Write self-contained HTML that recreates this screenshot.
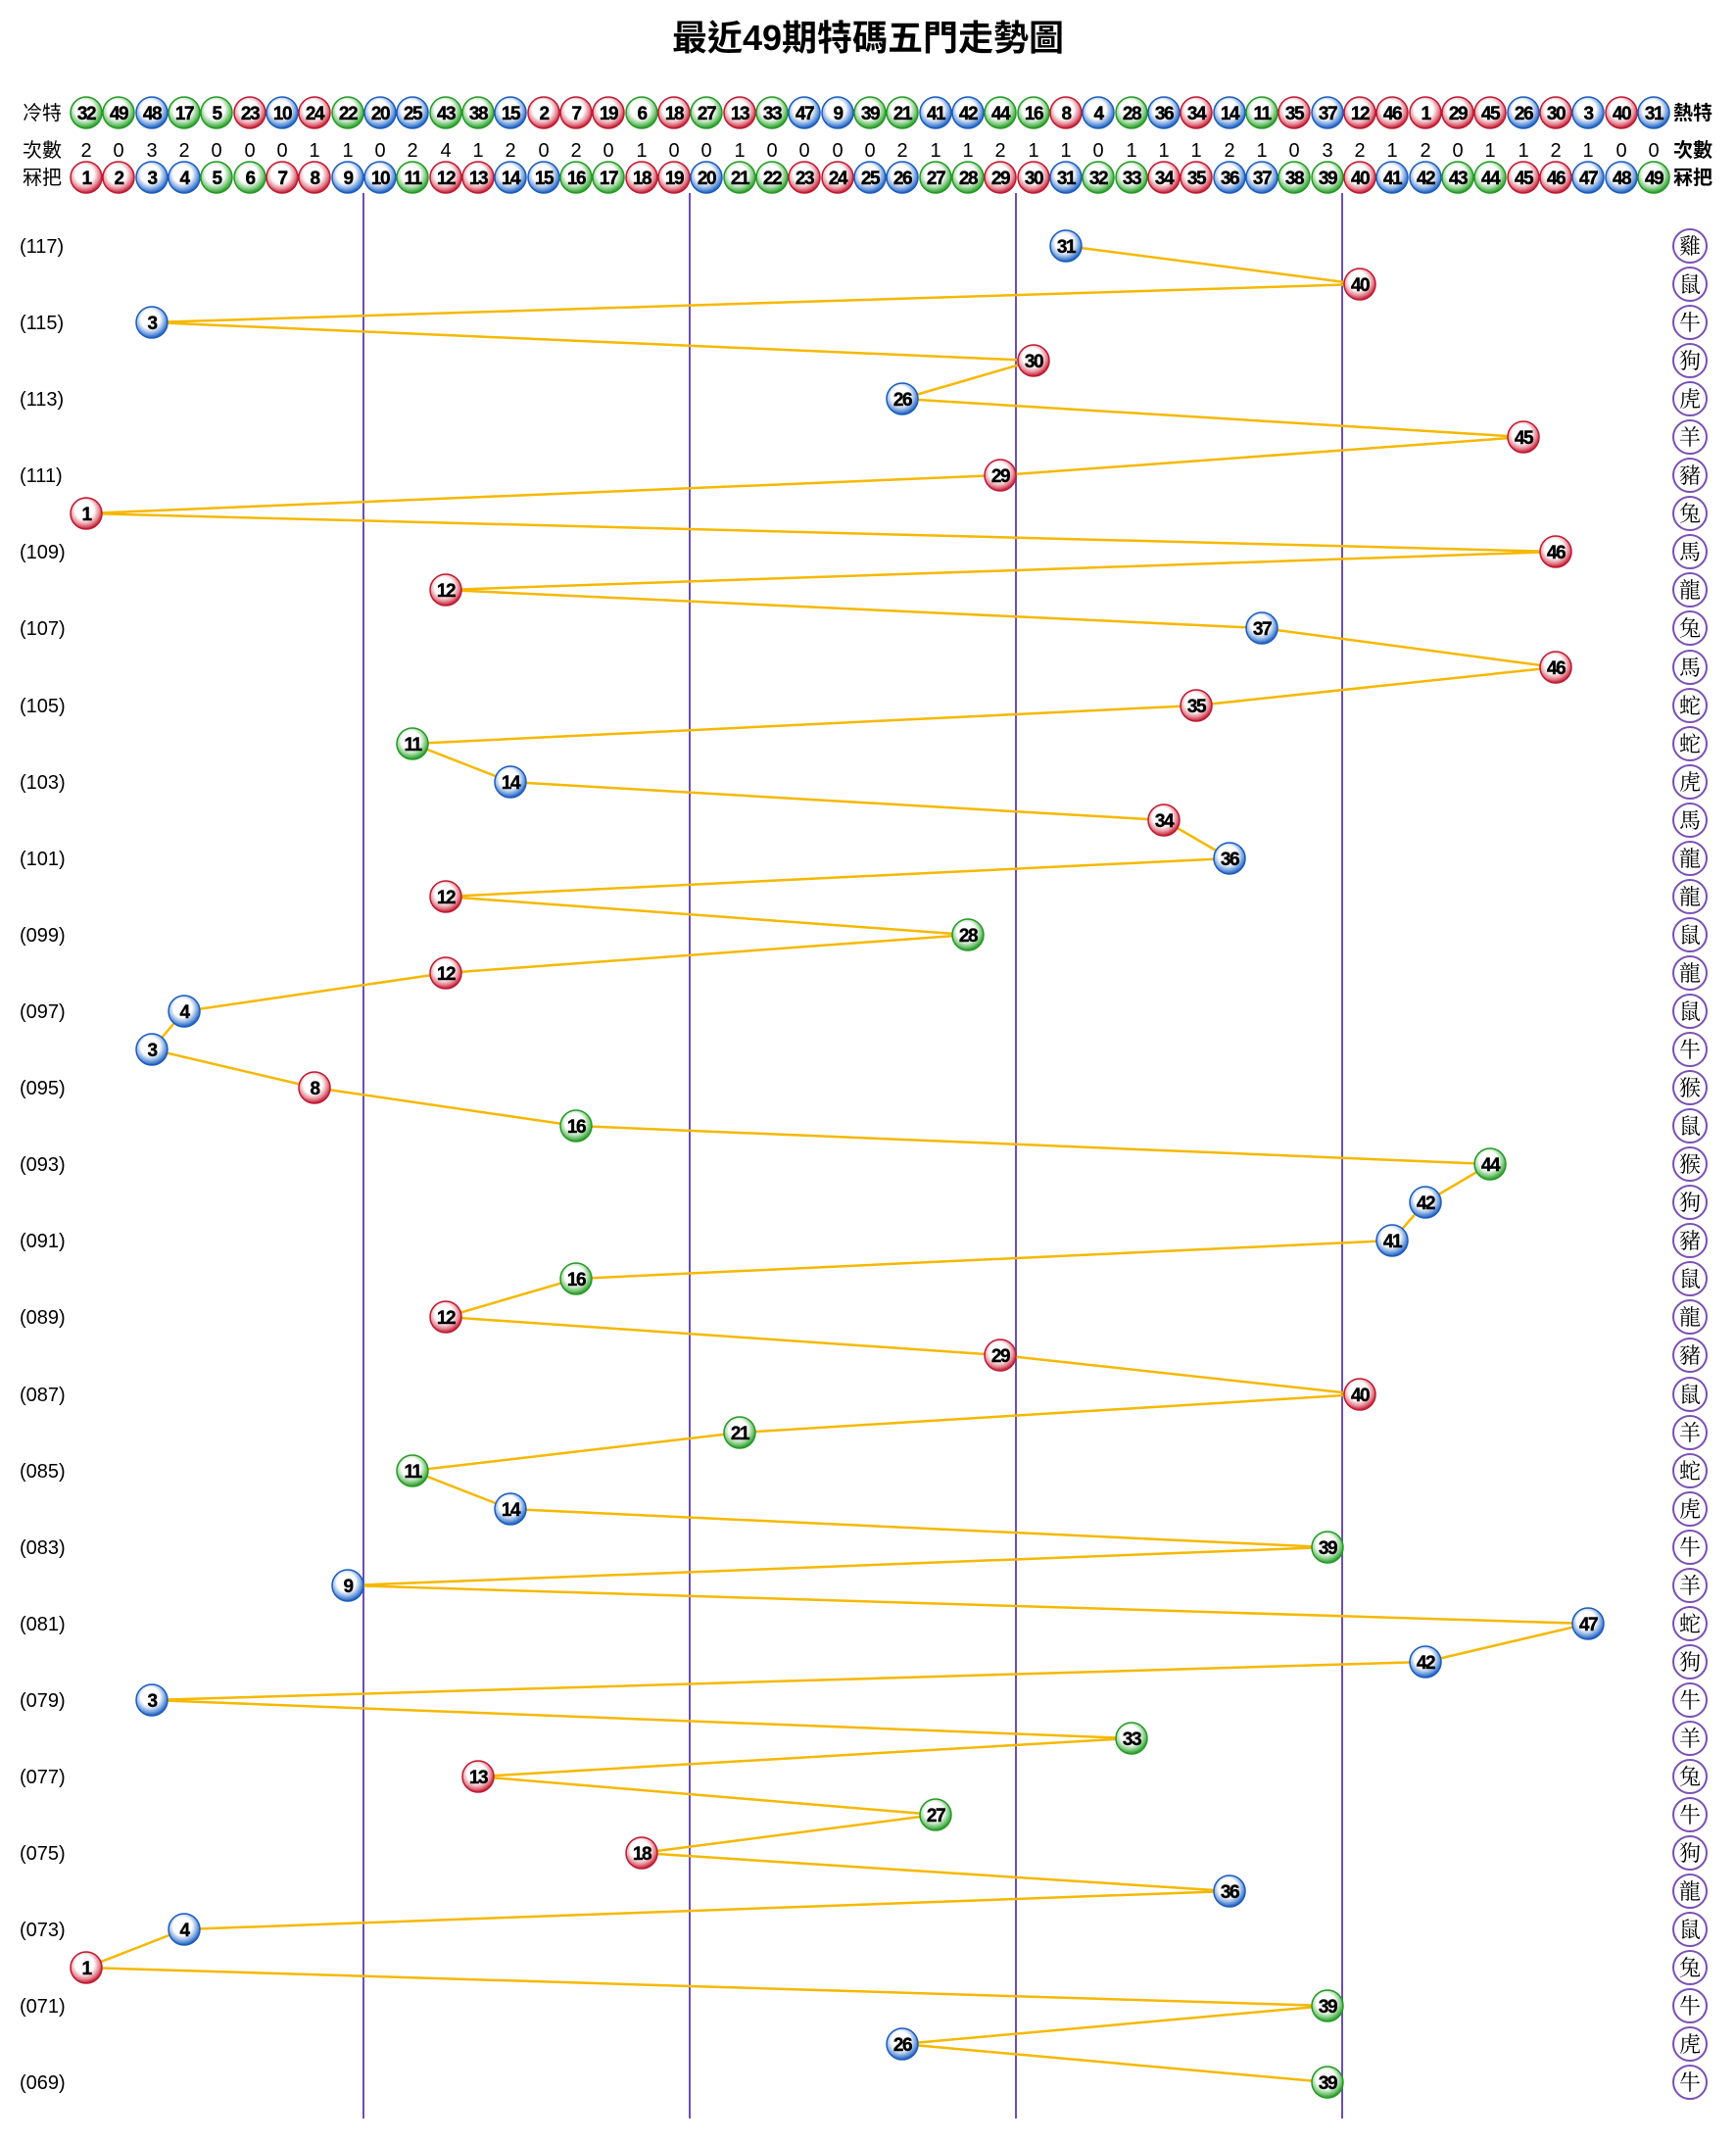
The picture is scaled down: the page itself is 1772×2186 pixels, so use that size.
<!DOCTYPE html>
<html><head><meta charset="utf-8"><style>
html,body{margin:0;padding:0;background:#fff}
svg{display:block}
.t{font:bold 19px "Liberation Sans",sans-serif;text-anchor:middle;letter-spacing:-1.5px;fill:#000;stroke:#000;stroke-width:0.4px;transform:translateY(1px)}
.c{font:20px "Liberation Sans",sans-serif;text-anchor:middle;fill:#000}
.l{font:20px "Liberation Sans","Noto Sans CJK TC",sans-serif;fill:#000}
.lb{font:bold 20px "Liberation Sans","Noto Sans CJK TC",sans-serif;fill:#000}
.p{font:20px "Liberation Sans",sans-serif;fill:#000}
.z{font:22px "Noto Serif CJK SC",serif;text-anchor:middle;fill:#000}
</style></head><body>
<svg width="1772" height="2186" viewBox="0 0 1772 2186" xmlns="http://www.w3.org/2000/svg">
<defs>
<radialGradient id="gR" cx="45%" cy="40%" r="60%"><stop offset="0" stop-color="#fff"/><stop offset="0.5" stop-color="#fff"/><stop offset="0.78" stop-color="#e58a96"/><stop offset="1" stop-color="#c01830"/></radialGradient>
<radialGradient id="gB" cx="45%" cy="40%" r="60%"><stop offset="0" stop-color="#fff"/><stop offset="0.5" stop-color="#fff"/><stop offset="0.78" stop-color="#7fa8e0"/><stop offset="1" stop-color="#1a5cbf"/></radialGradient>
<radialGradient id="gG" cx="45%" cy="40%" r="60%"><stop offset="0" stop-color="#fff"/><stop offset="0.5" stop-color="#fff"/><stop offset="0.78" stop-color="#86cc86"/><stop offset="1" stop-color="#249a24"/></radialGradient>
<circle id="R" r="16" fill="url(#gR)" stroke="#c01830" stroke-width="1.5"/>
<circle id="B" r="16" fill="url(#gB)" stroke="#1a5cbf" stroke-width="1.5"/>
<circle id="G" r="16" fill="url(#gG)" stroke="#249a24" stroke-width="1.5"/>
</defs>
<text x="886" y="51" style="font:bold 36px 'Liberation Sans','Noto Sans CJK TC',sans-serif;text-anchor:middle">最近49期特碼五門走勢圖</text>

<text class="l" x="23" y="122">冷特</text>
<text class="lb" x="1708" y="122">熱特</text>
<text class="l" x="23" y="160">次數</text>
<text class="lb" x="1708" y="160">次數</text>
<text class="l" x="23" y="188">冧把</text>
<text class="lb" x="1708" y="188">冧把</text>

<!-- vertical lines -->
<g stroke="#6a4fb8" stroke-width="2">
<line x1="371" y1="197" x2="371" y2="2162"/>
<line x1="704" y1="197" x2="704" y2="2162"/>
<line x1="1037" y1="197" x2="1037" y2="2162"/>
<line x1="1370" y1="197" x2="1370" y2="2162"/>
</g>

<g transform="translate(5,0)">
<!-- 冷特 row -->
<g>
<use href="#G" x="83" y="115"/><text class="t" x="83" y="121">32</text>
<use href="#G" x="116" y="115"/><text class="t" x="116" y="121">49</text>
<use href="#B" x="150" y="115"/><text class="t" x="150" y="121">48</text>
<use href="#G" x="183" y="115"/><text class="t" x="183" y="121">17</text>
<use href="#G" x="216" y="115"/><text class="t" x="216" y="121">5</text>
<use href="#R" x="250" y="115"/><text class="t" x="250" y="121">23</text>
<use href="#B" x="283" y="115"/><text class="t" x="283" y="121">10</text>
<use href="#R" x="316" y="115"/><text class="t" x="316" y="121">24</text>
<use href="#G" x="350" y="115"/><text class="t" x="350" y="121">22</text>
<use href="#B" x="383" y="115"/><text class="t" x="383" y="121">20</text>
<use href="#B" x="416" y="115"/><text class="t" x="416" y="121">25</text>
<use href="#G" x="450" y="115"/><text class="t" x="450" y="121">43</text>
<use href="#G" x="483" y="115"/><text class="t" x="483" y="121">38</text>
<use href="#B" x="516" y="115"/><text class="t" x="516" y="121">15</text>
<use href="#R" x="550" y="115"/><text class="t" x="550" y="121">2</text>
<use href="#R" x="583" y="115"/><text class="t" x="583" y="121">7</text>
<use href="#R" x="616" y="115"/><text class="t" x="616" y="121">19</text>
<use href="#G" x="650" y="115"/><text class="t" x="650" y="121">6</text>
<use href="#R" x="683" y="115"/><text class="t" x="683" y="121">18</text>
<use href="#G" x="716" y="115"/><text class="t" x="716" y="121">27</text>
<use href="#R" x="750" y="115"/><text class="t" x="750" y="121">13</text>
<use href="#G" x="783" y="115"/><text class="t" x="783" y="121">33</text>
<use href="#B" x="816" y="115"/><text class="t" x="816" y="121">47</text>
<use href="#B" x="850" y="115"/><text class="t" x="850" y="121">9</text>
<use href="#G" x="883" y="115"/><text class="t" x="883" y="121">39</text>
<use href="#G" x="916" y="115"/><text class="t" x="916" y="121">21</text>
<use href="#B" x="950" y="115"/><text class="t" x="950" y="121">41</text>
<use href="#B" x="983" y="115"/><text class="t" x="983" y="121">42</text>
<use href="#G" x="1016" y="115"/><text class="t" x="1016" y="121">44</text>
<use href="#G" x="1050" y="115"/><text class="t" x="1050" y="121">16</text>
<use href="#R" x="1083" y="115"/><text class="t" x="1083" y="121">8</text>
<use href="#B" x="1116" y="115"/><text class="t" x="1116" y="121">4</text>
<use href="#G" x="1150" y="115"/><text class="t" x="1150" y="121">28</text>
<use href="#B" x="1183" y="115"/><text class="t" x="1183" y="121">36</text>
<use href="#R" x="1216" y="115"/><text class="t" x="1216" y="121">34</text>
<use href="#B" x="1250" y="115"/><text class="t" x="1250" y="121">14</text>
<use href="#G" x="1283" y="115"/><text class="t" x="1283" y="121">11</text>
<use href="#R" x="1316" y="115"/><text class="t" x="1316" y="121">35</text>
<use href="#B" x="1350" y="115"/><text class="t" x="1350" y="121">37</text>
<use href="#R" x="1383" y="115"/><text class="t" x="1383" y="121">12</text>
<use href="#R" x="1416" y="115"/><text class="t" x="1416" y="121">46</text>
<use href="#R" x="1450" y="115"/><text class="t" x="1450" y="121">1</text>
<use href="#R" x="1483" y="115"/><text class="t" x="1483" y="121">29</text>
<use href="#R" x="1516" y="115"/><text class="t" x="1516" y="121">45</text>
<use href="#B" x="1550" y="115"/><text class="t" x="1550" y="121">26</text>
<use href="#R" x="1583" y="115"/><text class="t" x="1583" y="121">30</text>
<use href="#B" x="1616" y="115"/><text class="t" x="1616" y="121">3</text>
<use href="#R" x="1650" y="115"/><text class="t" x="1650" y="121">40</text>
<use href="#B" x="1683" y="115"/><text class="t" x="1683" y="121">31</text>
</g>

<!-- counts -->
<g>
<text class="c" x="83" y="160">2</text><text class="c" x="116" y="160">0</text><text class="c" x="150" y="160">3</text><text class="c" x="183" y="160">2</text><text class="c" x="216" y="160">0</text><text class="c" x="250" y="160">0</text><text class="c" x="283" y="160">0</text><text class="c" x="316" y="160">1</text><text class="c" x="350" y="160">1</text><text class="c" x="383" y="160">0</text>
<text class="c" x="416" y="160">2</text><text class="c" x="450" y="160">4</text><text class="c" x="483" y="160">1</text><text class="c" x="516" y="160">2</text><text class="c" x="550" y="160">0</text><text class="c" x="583" y="160">2</text><text class="c" x="616" y="160">0</text><text class="c" x="650" y="160">1</text><text class="c" x="683" y="160">0</text><text class="c" x="716" y="160">0</text>
<text class="c" x="750" y="160">1</text><text class="c" x="783" y="160">0</text><text class="c" x="816" y="160">0</text><text class="c" x="850" y="160">0</text><text class="c" x="883" y="160">0</text><text class="c" x="916" y="160">2</text><text class="c" x="950" y="160">1</text><text class="c" x="983" y="160">1</text><text class="c" x="1016" y="160">2</text><text class="c" x="1050" y="160">1</text>
<text class="c" x="1083" y="160">1</text><text class="c" x="1116" y="160">0</text><text class="c" x="1150" y="160">1</text><text class="c" x="1183" y="160">1</text><text class="c" x="1216" y="160">1</text><text class="c" x="1250" y="160">2</text><text class="c" x="1283" y="160">1</text><text class="c" x="1316" y="160">0</text><text class="c" x="1350" y="160">3</text><text class="c" x="1383" y="160">2</text>
<text class="c" x="1416" y="160">1</text><text class="c" x="1450" y="160">2</text><text class="c" x="1483" y="160">0</text><text class="c" x="1516" y="160">1</text><text class="c" x="1550" y="160">1</text><text class="c" x="1583" y="160">2</text><text class="c" x="1616" y="160">1</text><text class="c" x="1650" y="160">0</text><text class="c" x="1683" y="160">0</text>
</g>

<!-- 冧把 row -->
<g>
<use href="#R" x="83" y="181"/><text class="t" x="83" y="187">1</text>
<use href="#R" x="116" y="181"/><text class="t" x="116" y="187">2</text>
<use href="#B" x="150" y="181"/><text class="t" x="150" y="187">3</text>
<use href="#B" x="183" y="181"/><text class="t" x="183" y="187">4</text>
<use href="#G" x="216" y="181"/><text class="t" x="216" y="187">5</text>
<use href="#G" x="250" y="181"/><text class="t" x="250" y="187">6</text>
<use href="#R" x="283" y="181"/><text class="t" x="283" y="187">7</text>
<use href="#R" x="316" y="181"/><text class="t" x="316" y="187">8</text>
<use href="#B" x="350" y="181"/><text class="t" x="350" y="187">9</text>
<use href="#B" x="383" y="181"/><text class="t" x="383" y="187">10</text>
<use href="#G" x="416" y="181"/><text class="t" x="416" y="187">11</text>
<use href="#R" x="450" y="181"/><text class="t" x="450" y="187">12</text>
<use href="#R" x="483" y="181"/><text class="t" x="483" y="187">13</text>
<use href="#B" x="516" y="181"/><text class="t" x="516" y="187">14</text>
<use href="#B" x="550" y="181"/><text class="t" x="550" y="187">15</text>
<use href="#G" x="583" y="181"/><text class="t" x="583" y="187">16</text>
<use href="#G" x="616" y="181"/><text class="t" x="616" y="187">17</text>
<use href="#R" x="650" y="181"/><text class="t" x="650" y="187">18</text>
<use href="#R" x="683" y="181"/><text class="t" x="683" y="187">19</text>
<use href="#B" x="716" y="181"/><text class="t" x="716" y="187">20</text>
<use href="#G" x="750" y="181"/><text class="t" x="750" y="187">21</text>
<use href="#G" x="783" y="181"/><text class="t" x="783" y="187">22</text>
<use href="#R" x="816" y="181"/><text class="t" x="816" y="187">23</text>
<use href="#R" x="850" y="181"/><text class="t" x="850" y="187">24</text>
<use href="#B" x="883" y="181"/><text class="t" x="883" y="187">25</text>
<use href="#B" x="916" y="181"/><text class="t" x="916" y="187">26</text>
<use href="#G" x="950" y="181"/><text class="t" x="950" y="187">27</text>
<use href="#G" x="983" y="181"/><text class="t" x="983" y="187">28</text>
<use href="#R" x="1016" y="181"/><text class="t" x="1016" y="187">29</text>
<use href="#R" x="1050" y="181"/><text class="t" x="1050" y="187">30</text>
<use href="#B" x="1083" y="181"/><text class="t" x="1083" y="187">31</text>
<use href="#G" x="1116" y="181"/><text class="t" x="1116" y="187">32</text>
<use href="#G" x="1150" y="181"/><text class="t" x="1150" y="187">33</text>
<use href="#R" x="1183" y="181"/><text class="t" x="1183" y="187">34</text>
<use href="#R" x="1216" y="181"/><text class="t" x="1216" y="187">35</text>
<use href="#B" x="1250" y="181"/><text class="t" x="1250" y="187">36</text>
<use href="#B" x="1283" y="181"/><text class="t" x="1283" y="187">37</text>
<use href="#G" x="1316" y="181"/><text class="t" x="1316" y="187">38</text>
<use href="#G" x="1350" y="181"/><text class="t" x="1350" y="187">39</text>
<use href="#R" x="1383" y="181"/><text class="t" x="1383" y="187">40</text>
<use href="#B" x="1416" y="181"/><text class="t" x="1416" y="187">41</text>
<use href="#B" x="1450" y="181"/><text class="t" x="1450" y="187">42</text>
<use href="#G" x="1483" y="181"/><text class="t" x="1483" y="187">43</text>
<use href="#G" x="1516" y="181"/><text class="t" x="1516" y="187">44</text>
<use href="#R" x="1550" y="181"/><text class="t" x="1550" y="187">45</text>
<use href="#R" x="1583" y="181"/><text class="t" x="1583" y="187">46</text>
<use href="#B" x="1616" y="181"/><text class="t" x="1616" y="187">47</text>
<use href="#B" x="1650" y="181"/><text class="t" x="1650" y="187">48</text>
<use href="#G" x="1683" y="181"/><text class="t" x="1683" y="187">49</text>
</g>

<!-- trend line -->
<polyline fill="none" stroke="#f5b800" stroke-width="2.5" points="1083,251 1383,290 150,329 1050,368 916,407 1550,446 1016,485 83,524 1583,563 450,602 1283,641 1583,681 1216,720 416,759 516,798 1183,837 1250,876 450,915 983,954 450,993 183,1032 150,1071 316,1110 583,1149 1516,1188 1450,1227 1416,1266 583,1305 450,1344 1016,1383 1383,1423 750,1462 416,1501 516,1540 1350,1579 350,1618 1616,1657 1450,1696 150,1735 1150,1774 483,1813 950,1852 650,1891 1250,1930 183,1969 83,2008 1350,2047 916,2086 1350,2125"/>

<!-- chart balls -->
<g>
<use href="#B" x="1083" y="251"/><text class="t" x="1083" y="257">31</text>
<use href="#R" x="1383" y="290"/><text class="t" x="1383" y="296">40</text>
<use href="#B" x="150" y="329"/><text class="t" x="150" y="335">3</text>
<use href="#R" x="1050" y="368"/><text class="t" x="1050" y="374">30</text>
<use href="#B" x="916" y="407"/><text class="t" x="916" y="413">26</text>
<use href="#R" x="1550" y="446"/><text class="t" x="1550" y="452">45</text>
<use href="#R" x="1016" y="485"/><text class="t" x="1016" y="491">29</text>
<use href="#R" x="83" y="524"/><text class="t" x="83" y="530">1</text>
<use href="#R" x="1583" y="563"/><text class="t" x="1583" y="569">46</text>
<use href="#R" x="450" y="602"/><text class="t" x="450" y="608">12</text>
<use href="#B" x="1283" y="641"/><text class="t" x="1283" y="647">37</text>
<use href="#R" x="1583" y="681"/><text class="t" x="1583" y="687">46</text>
<use href="#R" x="1216" y="720"/><text class="t" x="1216" y="726">35</text>
<use href="#G" x="416" y="759"/><text class="t" x="416" y="765">11</text>
<use href="#B" x="516" y="798"/><text class="t" x="516" y="804">14</text>
<use href="#R" x="1183" y="837"/><text class="t" x="1183" y="843">34</text>
<use href="#B" x="1250" y="876"/><text class="t" x="1250" y="882">36</text>
<use href="#R" x="450" y="915"/><text class="t" x="450" y="921">12</text>
<use href="#G" x="983" y="954"/><text class="t" x="983" y="960">28</text>
<use href="#R" x="450" y="993"/><text class="t" x="450" y="999">12</text>
<use href="#B" x="183" y="1032"/><text class="t" x="183" y="1038">4</text>
<use href="#B" x="150" y="1071"/><text class="t" x="150" y="1077">3</text>
<use href="#R" x="316" y="1110"/><text class="t" x="316" y="1116">8</text>
<use href="#G" x="583" y="1149"/><text class="t" x="583" y="1155">16</text>
<use href="#G" x="1516" y="1188"/><text class="t" x="1516" y="1194">44</text>
<use href="#B" x="1450" y="1227"/><text class="t" x="1450" y="1233">42</text>
<use href="#B" x="1416" y="1266"/><text class="t" x="1416" y="1272">41</text>
<use href="#G" x="583" y="1305"/><text class="t" x="583" y="1311">16</text>
<use href="#R" x="450" y="1344"/><text class="t" x="450" y="1350">12</text>
<use href="#R" x="1016" y="1383"/><text class="t" x="1016" y="1389">29</text>
<use href="#R" x="1383" y="1423"/><text class="t" x="1383" y="1429">40</text>
<use href="#G" x="750" y="1462"/><text class="t" x="750" y="1468">21</text>
<use href="#G" x="416" y="1501"/><text class="t" x="416" y="1507">11</text>
<use href="#B" x="516" y="1540"/><text class="t" x="516" y="1546">14</text>
<use href="#G" x="1350" y="1579"/><text class="t" x="1350" y="1585">39</text>
<use href="#B" x="350" y="1618"/><text class="t" x="350" y="1624">9</text>
<use href="#B" x="1616" y="1657"/><text class="t" x="1616" y="1663">47</text>
<use href="#B" x="1450" y="1696"/><text class="t" x="1450" y="1702">42</text>
<use href="#B" x="150" y="1735"/><text class="t" x="150" y="1741">3</text>
<use href="#G" x="1150" y="1774"/><text class="t" x="1150" y="1780">33</text>
<use href="#R" x="483" y="1813"/><text class="t" x="483" y="1819">13</text>
<use href="#G" x="950" y="1852"/><text class="t" x="950" y="1858">27</text>
<use href="#R" x="650" y="1891"/><text class="t" x="650" y="1897">18</text>
<use href="#B" x="1250" y="1930"/><text class="t" x="1250" y="1936">36</text>
<use href="#B" x="183" y="1969"/><text class="t" x="183" y="1975">4</text>
<use href="#R" x="83" y="2008"/><text class="t" x="83" y="2014">1</text>
<use href="#G" x="1350" y="2047"/><text class="t" x="1350" y="2053">39</text>
<use href="#B" x="916" y="2086"/><text class="t" x="916" y="2092">26</text>
<use href="#G" x="1350" y="2125"/><text class="t" x="1350" y="2131">39</text>
</g>
</g>

<!-- period labels -->
<g>
<text class="p" x="20" y="258">(117)</text>
<text class="p" x="20" y="336">(115)</text>
<text class="p" x="20" y="414">(113)</text>
<text class="p" x="20" y="492">(111)</text>
<text class="p" x="20" y="570">(109)</text>
<text class="p" x="20" y="648">(107)</text>
<text class="p" x="20" y="727">(105)</text>
<text class="p" x="20" y="805">(103)</text>
<text class="p" x="20" y="883">(101)</text>
<text class="p" x="20" y="961">(099)</text>
<text class="p" x="20" y="1039">(097)</text>
<text class="p" x="20" y="1117">(095)</text>
<text class="p" x="20" y="1195">(093)</text>
<text class="p" x="20" y="1273">(091)</text>
<text class="p" x="20" y="1351">(089)</text>
<text class="p" x="20" y="1430">(087)</text>
<text class="p" x="20" y="1508">(085)</text>
<text class="p" x="20" y="1586">(083)</text>
<text class="p" x="20" y="1664">(081)</text>
<text class="p" x="20" y="1742">(079)</text>
<text class="p" x="20" y="1820">(077)</text>
<text class="p" x="20" y="1898">(075)</text>
<text class="p" x="20" y="1976">(073)</text>
<text class="p" x="20" y="2054">(071)</text>
<text class="p" x="20" y="2132">(069)</text>
</g>

<!-- zodiac circles -->
<g fill="none" stroke="#7a4fb5" stroke-width="2">
<circle cx="1725" cy="251" r="17"/><circle cx="1725" cy="290" r="17"/><circle cx="1725" cy="329" r="17"/><circle cx="1725" cy="368" r="17"/><circle cx="1725" cy="407" r="17"/><circle cx="1725" cy="446" r="17"/><circle cx="1725" cy="485" r="17"/><circle cx="1725" cy="524" r="17"/><circle cx="1725" cy="563" r="17"/><circle cx="1725" cy="602" r="17"/>
<circle cx="1725" cy="641" r="17"/><circle cx="1725" cy="681" r="17"/><circle cx="1725" cy="720" r="17"/><circle cx="1725" cy="759" r="17"/><circle cx="1725" cy="798" r="17"/><circle cx="1725" cy="837" r="17"/><circle cx="1725" cy="876" r="17"/><circle cx="1725" cy="915" r="17"/><circle cx="1725" cy="954" r="17"/><circle cx="1725" cy="993" r="17"/>
<circle cx="1725" cy="1032" r="17"/><circle cx="1725" cy="1071" r="17"/><circle cx="1725" cy="1110" r="17"/><circle cx="1725" cy="1149" r="17"/><circle cx="1725" cy="1188" r="17"/><circle cx="1725" cy="1227" r="17"/><circle cx="1725" cy="1266" r="17"/><circle cx="1725" cy="1305" r="17"/><circle cx="1725" cy="1344" r="17"/><circle cx="1725" cy="1383" r="17"/>
<circle cx="1725" cy="1423" r="17"/><circle cx="1725" cy="1462" r="17"/><circle cx="1725" cy="1501" r="17"/><circle cx="1725" cy="1540" r="17"/><circle cx="1725" cy="1579" r="17"/><circle cx="1725" cy="1618" r="17"/><circle cx="1725" cy="1657" r="17"/><circle cx="1725" cy="1696" r="17"/><circle cx="1725" cy="1735" r="17"/><circle cx="1725" cy="1774" r="17"/>
<circle cx="1725" cy="1813" r="17"/><circle cx="1725" cy="1852" r="17"/><circle cx="1725" cy="1891" r="17"/><circle cx="1725" cy="1930" r="17"/><circle cx="1725" cy="1969" r="17"/><circle cx="1725" cy="2008" r="17"/><circle cx="1725" cy="2047" r="17"/><circle cx="1725" cy="2086" r="17"/><circle cx="1725" cy="2125" r="17"/>
</g>
<g>
<text class="z" x="1725" y="259">雞</text><text class="z" x="1725" y="298">鼠</text><text class="z" x="1725" y="337">牛</text><text class="z" x="1725" y="376">狗</text><text class="z" x="1725" y="415">虎</text><text class="z" x="1725" y="454">羊</text><text class="z" x="1725" y="493">豬</text><text class="z" x="1725" y="532">兔</text><text class="z" x="1725" y="571">馬</text><text class="z" x="1725" y="610">龍</text>
<text class="z" x="1725" y="649">兔</text><text class="z" x="1725" y="689">馬</text><text class="z" x="1725" y="728">蛇</text><text class="z" x="1725" y="767">蛇</text><text class="z" x="1725" y="806">虎</text><text class="z" x="1725" y="845">馬</text><text class="z" x="1725" y="884">龍</text><text class="z" x="1725" y="923">龍</text><text class="z" x="1725" y="962">鼠</text><text class="z" x="1725" y="1001">龍</text>
<text class="z" x="1725" y="1040">鼠</text><text class="z" x="1725" y="1079">牛</text><text class="z" x="1725" y="1118">猴</text><text class="z" x="1725" y="1157">鼠</text><text class="z" x="1725" y="1196">猴</text><text class="z" x="1725" y="1235">狗</text><text class="z" x="1725" y="1274">豬</text><text class="z" x="1725" y="1313">鼠</text><text class="z" x="1725" y="1352">龍</text><text class="z" x="1725" y="1391">豬</text>
<text class="z" x="1725" y="1431">鼠</text><text class="z" x="1725" y="1470">羊</text><text class="z" x="1725" y="1509">蛇</text><text class="z" x="1725" y="1548">虎</text><text class="z" x="1725" y="1587">牛</text><text class="z" x="1725" y="1626">羊</text><text class="z" x="1725" y="1665">蛇</text><text class="z" x="1725" y="1704">狗</text><text class="z" x="1725" y="1743">牛</text><text class="z" x="1725" y="1782">羊</text>
<text class="z" x="1725" y="1821">兔</text><text class="z" x="1725" y="1860">牛</text><text class="z" x="1725" y="1899">狗</text><text class="z" x="1725" y="1938">龍</text><text class="z" x="1725" y="1977">鼠</text><text class="z" x="1725" y="2016">兔</text><text class="z" x="1725" y="2055">牛</text><text class="z" x="1725" y="2094">虎</text><text class="z" x="1725" y="2133">牛</text>
</g>
</svg>
</body></html>
